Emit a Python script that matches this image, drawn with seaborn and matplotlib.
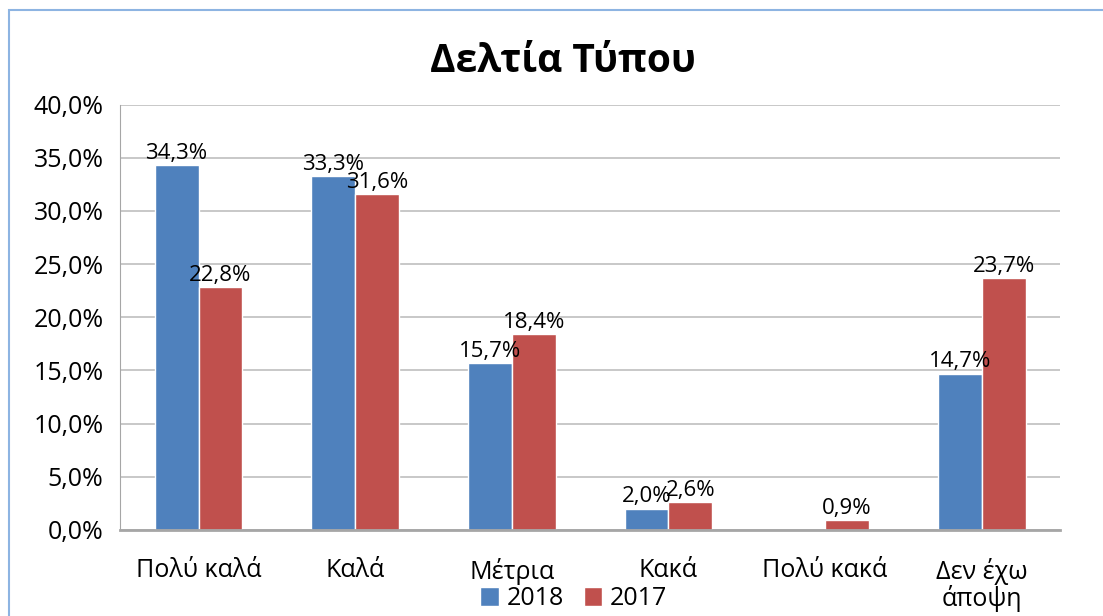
import numpy as np
import pandas as pd
import seaborn as sns
import matplotlib.pyplot as plt
from matplotlib.patches import Rectangle

categories = ['Πολύ καλά', 'Καλά', 'Μέτρια', 'Κακά', 'Πολύ κακά', 'Δεν έχω\nάποψη']
vals_2018 = [34.3, 33.3, 15.7, 2.0, np.nan, 14.7]
vals_2017 = [22.8, 31.6, 18.4, 2.6, 0.9, 23.7]
years = ['2018', '2017']
colors = {'2018': '#4F81BD', '2017': '#C0504D'}

df = pd.DataFrame({
    'cat': categories * 2,
    'val': vals_2018 + vals_2017,
    'year': ['2018'] * 6 + ['2017'] * 6,
})

sns.set_style('white')
plt.rcParams['font.family'] = ['Open Sans', 'DejaVu Sans']
plt.rcParams['text.color'] = 'black'
plt.rcParams['xtick.color'] = 'black'
plt.rcParams['ytick.color'] = 'black'

fig = plt.figure(figsize=(11.03, 6.16), dpi=100)
ax = fig.add_axes([0.109, 0.14, 0.852, 0.69])

sns.barplot(data=df, x='cat', y='val', hue='year', hue_order=years,
            palette=colors, width=0.56, gap=0, ax=ax, saturation=1)

for c in ax.containers:
    ax.bar_label(c, labels=['' if np.isnan(v) else f'{v:.1f}%'.replace('.', ',') for v in c.datavalues],
                 fontsize=16, padding=1, color='black')

ax.set_ylim(0, 40)
ax.set_yticks(np.arange(0, 41, 5))
ax.set_yticklabels([f'{t:.1f}%'.replace('.', ',') for t in np.arange(0, 41, 5)], fontsize=18)
ax.tick_params(axis='x', labelsize=18, pad=20, length=0)
ax.tick_params(axis='y', length=0, pad=12)
for t in ax.get_xticklabels():
    t.set_linespacing(1.0)
ax.set_xlabel('')
ax.set_ylabel('')
ax.grid(axis='y', color='#BFBFBF', linewidth=1.2)
ax.set_axisbelow(True)
for s in ['top', 'right']:
    ax.spines[s].set_visible(False)
ax.spines['left'].set_color('#A6A6A6')
ax.spines['bottom'].set_color('#A6A6A6')
ax.spines['bottom'].set_linewidth(2)

fig.suptitle('Δελτία Τύπου', fontsize=28, fontweight='bold', x=0.51, y=0.9, va='center')

ax.legend(loc='center', bbox_to_anchor=(0.52, 0.028), bbox_transform=fig.transFigure,
          ncol=2, frameon=False, fontsize=18, handlelength=0.75, handleheight=0.75,
          handletextpad=0.3, columnspacing=0.8)

fig.patches.append(Rectangle((0.008, -0.1), 1.1, 1.083, transform=fig.transFigure,
                             fill=False, edgecolor='#8DB4E2', linewidth=1.5))

fig.savefig('out.png', dpi=100)
